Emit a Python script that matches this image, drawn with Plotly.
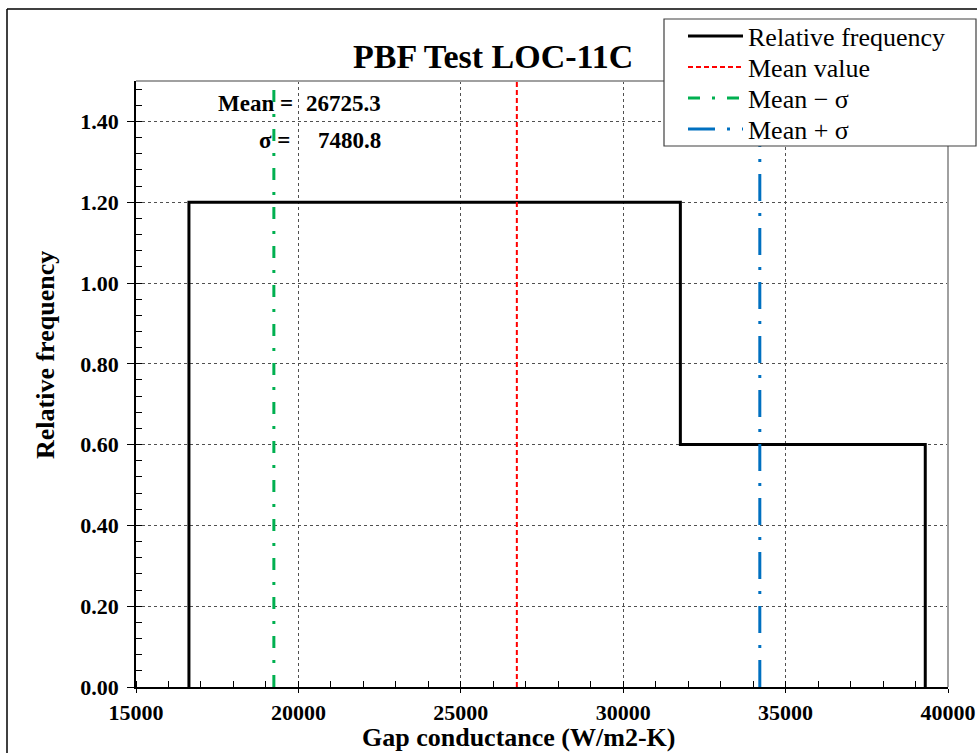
import plotly.graph_objects as go

# Histogram of gap conductance, PBF Test LOC-11C
bin_edges = [16630, 31760, 39300]
rel_freq = [1.2, 0.6]
mean_value = 26725.3
sigma = 7480.8

x_range = [15000, 40000]
y_range = [0, 1.5]

FONT = "Liberation Serif"

# Plot-area geometry in pixels
W, H = 977, 753
L, R, T, B = 136, 29, 81, 66
PW = W - L - R
PH = H - T - B


def px_x(px):
    return (px - L) / PW


def px_y(py):
    return 1 - (py - T) / PH


# Step outline of the histogram
step_x, step_y = [bin_edges[0]], [0]
for i, f in enumerate(rel_freq):
    step_x += [bin_edges[i], bin_edges[i + 1]]
    step_y += [f, f]
step_x.append(bin_edges[-1])
step_y.append(0)

fig = go.Figure()
fig.add_trace(go.Scatter(x=step_x, y=step_y, mode="lines", name="Relative frequency",
                         legend="legend",
                         line=dict(color="black", width=3)))
fig.add_trace(go.Scatter(x=[mean_value, mean_value], y=y_range, mode="lines", name="Mean value",
                         legend="legend2",
                         line=dict(color="#ff0000", width=2, dash="5px,3px")))
fig.add_trace(go.Scatter(x=[mean_value - sigma] * 2, y=y_range, mode="lines", name="Mean \u2212 \u03c3",
                         legend="legend3",
                         line=dict(color="#00b050", width=3, dash="12px,12px,3px,12px")))
fig.add_trace(go.Scatter(x=[mean_value + sigma] * 2, y=y_range, mode="lines", name="Mean + \u03c3",
                         legend="legend4",
                         line=dict(color="#0070c0", width=3, dash="27px,12px,3px,12px")))

axis_common = dict(
    showgrid=True, gridcolor="#505050", griddash="dot", gridwidth=1,
    zeroline=False, showline=True, linecolor="black", linewidth=1.5,
    ticks="outside", tickcolor="black",
    tickfont=dict(family=FONT, size=22, color="black", weight="bold"),
)

fig.update_xaxes(range=x_range, dtick=5000, tick0=15000, tickformat="d", ticklen=4,
                 ticklabelstandoff=1,
                 minor=dict(ticks="inside", dtick=1000, ticklen=6, tickcolor="black", showgrid=False),
                 **axis_common)
fig.update_yaxes(range=y_range, dtick=0.2, tick0=0, tickformat=".2f", ticklen=7,
                 ticklabelstandoff=4,
                 minor=dict(ticks="inside", dtick=0.04, ticklen=6, tickcolor="black", showgrid=False),
                 **axis_common)

shapes = [
    # gray top and right frame of the plot area
    dict(type="line", xref="paper", yref="paper", x0=0, x1=1, y0=1, y1=1,
         line=dict(color="#a0a0a0", width=2)),
    dict(type="line", xref="paper", yref="paper", x0=1, x1=1, y0=0, y1=1,
         line=dict(color="#a0a0a0", width=2)),
    # outer chart border
    dict(type="line", xref="paper", yref="paper", x0=px_x(7), x1=px_x(7), y0=px_y(760), y1=px_y(9),
         line=dict(color="black", width=1.5)),
    dict(type="line", xref="paper", yref="paper", x0=px_x(7), x1=px_x(985), y0=px_y(9), y1=px_y(9),
         line=dict(color="black", width=1.5)),
    # legend box
    dict(type="rect", xref="paper", yref="paper", layer="above",
         x0=px_x(664), x1=px_x(976), y0=px_y(146), y1=px_y(19),
         fillcolor="white", line=dict(color="#404040", width=1.2)),
]

bold = lambda size: dict(family=FONT, size=size, color="black", weight="bold")

annotations = [
    dict(text="PBF Test LOC-11C", xref="paper", yref="paper", x=px_x(493), y=px_y(57),
         xanchor="center", yanchor="middle", showarrow=False, font=bold(34)),
    dict(text="Relative frequency", xref="paper", yref="paper", x=px_x(45), y=px_y(355),
         xanchor="center", yanchor="middle", showarrow=False, textangle=-90, font=bold(26)),
    dict(text="Gap conductance (W/m2-K)", xref="paper", yref="paper", x=px_x(518), y=px_y(737),
         xanchor="center", yanchor="middle", showarrow=False, font=bold(26)),
    dict(text="Mean =", xref="paper", yref="paper", x=px_x(295), y=px_y(103),
         xanchor="right", yanchor="middle", showarrow=False, font=bold(23)),
    dict(text=f"{mean_value:.1f}", xref="paper", yref="paper", x=px_x(383), y=px_y(103),
         xanchor="right", yanchor="middle", showarrow=False, font=bold(23)),
    dict(text="\u03c3 =", xref="paper", yref="paper", x=px_x(292), y=px_y(140),
         xanchor="right", yanchor="middle", showarrow=False, font=bold(23)),
    dict(text=f"{sigma:.1f}", xref="paper", yref="paper", x=px_x(383), y=px_y(140),
         xanchor="right", yanchor="middle", showarrow=False, font=bold(23)),
]


def legend_row(py):
    return dict(x=px_x(683), y=px_y(py), xanchor="left", yanchor="middle",
                bgcolor="rgba(0,0,0,0)", borderwidth=0, itemwidth=55,
                font=dict(family=FONT, size=26, color="black"))


fig.update_layout(
    width=W, height=H,
    margin=dict(l=L, r=R, t=T, b=B, autoexpand=False),
    paper_bgcolor="white", plot_bgcolor="white",
    font=dict(family=FONT, color="black"),
    shapes=shapes, annotations=annotations,
    showlegend=True,
    legend=legend_row(36),
    legend2=legend_row(67),
    legend3=legend_row(98),
    legend4=legend_row(129),
)

fig.write_html("out.html")
